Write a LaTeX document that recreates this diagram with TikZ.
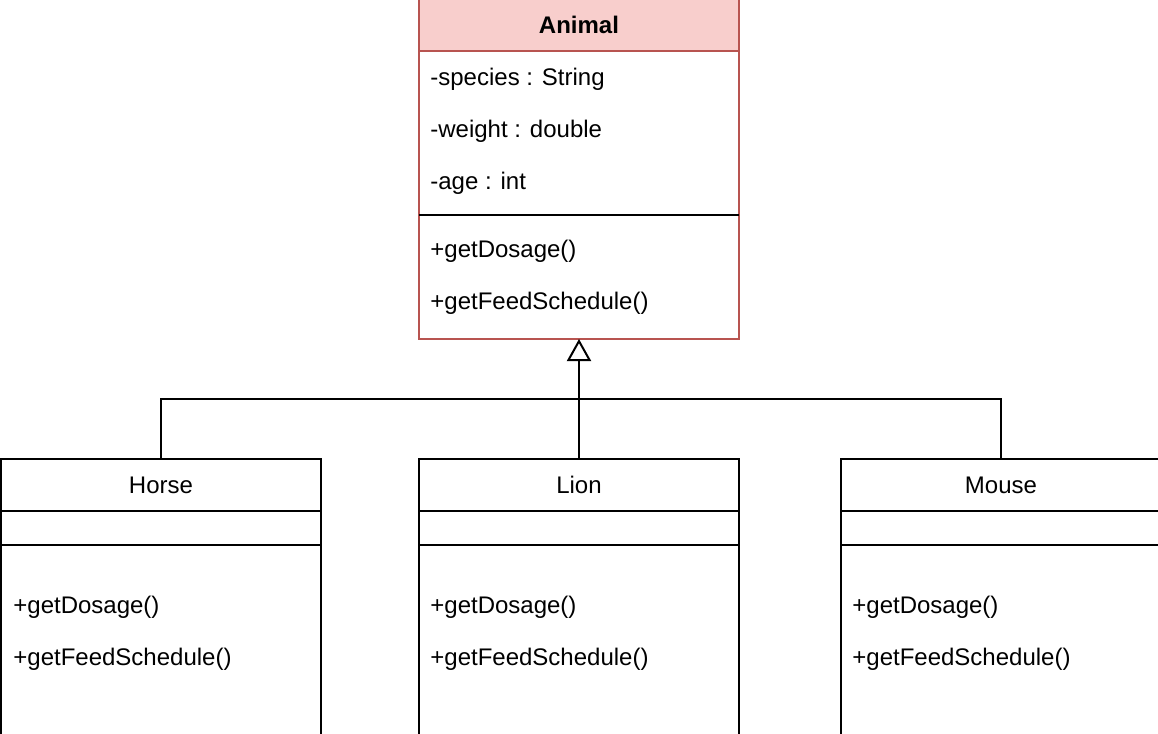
\documentclass[tikz,border=0pt]{standalone}
\usepackage{fontspec}
\setmainfont{Liberation Sans}
\usetikzlibrary{positioning,arrows.meta}

\definecolor{headfill}{HTML}{F8CECC}
\definecolor{headline}{HTML}{B85450}

\tikzset{
    part/.style={draw, rectangle, minimum width=160pt, inner sep=0pt, outer sep=0pt, line width=1pt, text height=10.9pt, text depth=2.5pt},
    row/.style={anchor=west, inner sep=0pt, text height=10.9pt, text depth=2.5pt},
    inherit/.style={line width=1pt, -{Triangle[open, length=11pt, width=12pt, fill=white]}}
}

\begin{document}
\begin{tikzpicture}[font=\fontsize{12pt}{14pt}\selectfont]
                \useasboundingbox (0,0) rectangle (579pt,-367pt);

                % parent class
                \node[part, fill=headfill, draw=headline, minimum height=26pt] (animal) at (289.5pt,-12.5pt) {\textbf{Animal}};
                \node[part, draw=headline, minimum height=82pt, below=0pt of animal] (animalattr) {};
                \node[part, draw=headline, minimum height=62pt, below=0pt of animalattr] (animalmeth) {};
                \draw[line width=1pt] (animalattr.south west) -- (animalattr.south east);
                \node[row] (species) at (215pt,-38.5pt) {-species : String};
                \node[row] (weight) at (215pt,-64.5pt) {-weight : double};
                \node[row] (age) at (215pt,-90.5pt) {-age : int};
                \node[row] (animaldose) at (215pt,-124.5pt) {+getDosage()};
                \node[row] (animalfeed) at (215pt,-150.5pt) {+getFeedSchedule()};

                % subclasses
                \node[part, minimum height=26pt] (horse) at (80.5pt,-242.5pt) {Horse};
                \node[part, minimum height=17pt, below=0pt of horse] (horseattr) {};
                \node[part, minimum height=120pt, below=0pt of horseattr] (horsemeth) {};
                \node[row] (horsedose) at (6.5pt,-302.5pt) {+getDosage()};
                \node[row] (horsefeed) at (6.5pt,-328.5pt) {+getFeedSchedule()};

                \node[part, minimum height=26pt] (lion) at (289.5pt,-242.5pt) {Lion};
                \node[part, minimum height=17pt, below=0pt of lion] (lionattr) {};
                \node[part, minimum height=120pt, below=0pt of lionattr] (lionmeth) {};
                \node[row] (liondose) at (215pt,-302.5pt) {+getDosage()};
                \node[row] (lionfeed) at (215pt,-328.5pt) {+getFeedSchedule()};

                \node[part, minimum height=26pt] (mouse) at (500.5pt,-242.5pt) {Mouse};
                \node[part, minimum height=17pt, below=0pt of mouse] (mouseattr) {};
                \node[part, minimum height=120pt, below=0pt of mouseattr] (mousemeth) {};
                \node[row] (mousedose) at (426pt,-302.5pt) {+getDosage()};
                \node[row] (mousefeed) at (426pt,-328.5pt) {+getFeedSchedule()};

                % generalisation
                \coordinate (bus) at (289.5pt,-199.5pt);
                \draw[line width=1pt] (horse.north) |- (bus);
                \draw[line width=1pt] (mouse.north) |- (bus);
                \draw[inherit] (lion.north) -- (animalmeth.south);
\end{tikzpicture}
\end{document}
